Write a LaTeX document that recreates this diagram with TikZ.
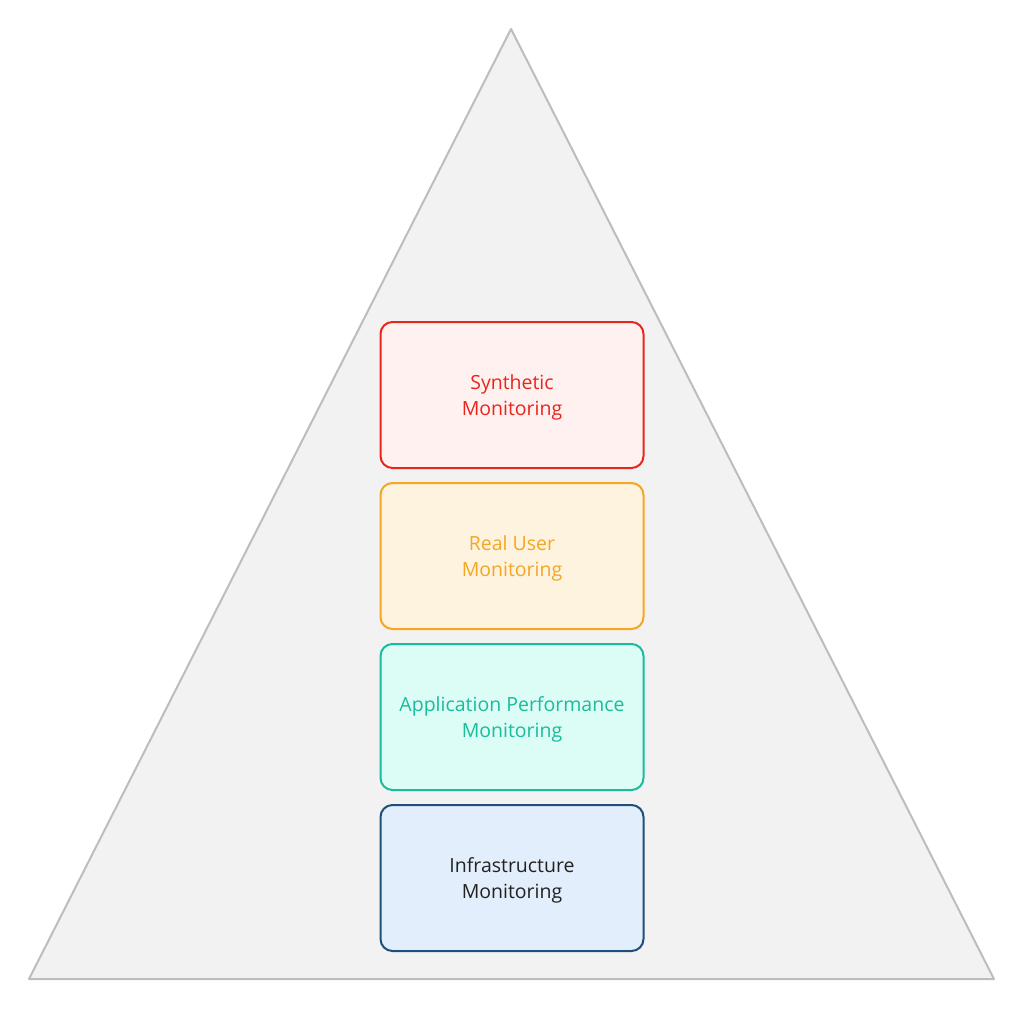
\documentclass[tikz,border=0pt]{standalone}
\usepackage{fontspec}
\setmainfont{Open Sans}
\definecolor{tri}{HTML}{F2F2F2}
\definecolor{tristroke}{HTML}{BDBDBD}
\definecolor{redS}{HTML}{E8271C}
\definecolor{redF}{HTML}{FEF1F0}
\definecolor{orS}{HTML}{F5A623}
\definecolor{orF}{HTML}{FEF3DF}
\definecolor{tlS}{HTML}{1ABC9C}
\definecolor{tlF}{HTML}{DCFCF6}
\definecolor{blS}{HTML}{1F4E7A}
\definecolor{blF}{HTML}{E3EEFC}
\definecolor{blT}{HTML}{222222}
\newcommand{\twolines}[2]{\raisebox{-2pt}[\height][\depth]{\begin{tabular}{@{}c@{}}#1\\#2\end{tabular}}}
\begin{document}
\begin{tikzpicture}[x=1pt,y=-1pt,
  layer/.style={draw=#1S,fill=#1F,line width=2pt,rounded corners=12pt,minimum width=263pt,minimum height=146pt,align=center,font=\fontsize{19.5}{26}\selectfont,inner sep=0pt,anchor=north west}]
\useasboundingbox (0,0) rectangle (1024,1009);
\draw[fill=tri,draw=tristroke,line width=2pt,line join=round] (511,29) coordinate (apex) -- (994,979) coordinate (br) -- (29,979) coordinate (bl) -- cycle;
\node[layer=red,text=redS] (syn) at (379.5,321) {\twolines{Synthetic}{Monitoring}};
\node[layer=or,text=orS] (rum) at (379.5,482) {\twolines{Real User}{Monitoring}};
\node[layer=tl,text=tlS] (apm) at (379.5,643) {\twolines{Application Performance}{Monitoring}};
\node[layer=bl,text=blT] (inf) at (379.5,804) {\twolines{Infrastructure}{Monitoring}};
\end{tikzpicture}
\end{document}
